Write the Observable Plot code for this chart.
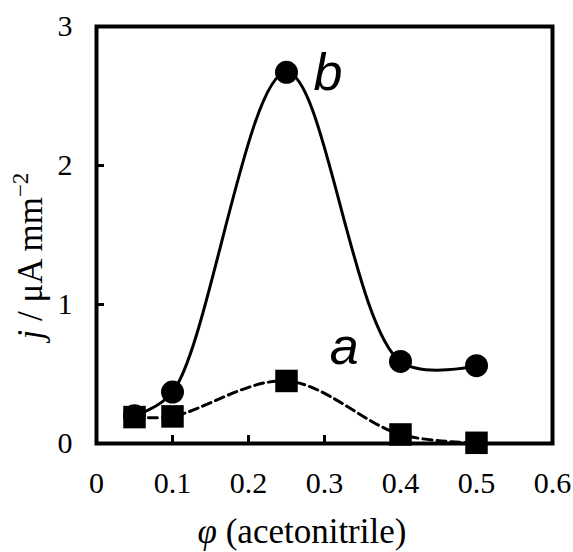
<!DOCTYPE html>
<html><head><meta charset="utf-8">
<script src="https://cdn.jsdelivr.net/npm/d3@7"></script>
<script src="https://cdn.jsdelivr.net/npm/@observablehq/plot@0.6"></script>
<style>body{margin:0;background:#fff}</style>
</head><body><div id="chart"></div>
<script>
const phi = [0.05, 0.1, 0.25, 0.4, 0.5];
const seriesA = [0.19, 0.195, 0.45, 0.065, 0.005];
const seriesB = [0.2, 0.37, 2.67, 0.59, 0.56];
const xTicks = [0, 0.1, 0.2, 0.3, 0.4, 0.5, 0.6];
const yTicks = [0, 1, 2, 3];
const labelNames = ["a", "b"];
const labelX = [0.326, 0.3046];
const labelY = [0.695, 2.66];

const dataA = phi.map((x, i) => ({x, y: seriesA[i]}));
const dataB = phi.map((x, i) => ({x, y: seriesB[i]}));
const labels = labelNames.map((name, i) => ({name, x: labelX[i], y: labelY[i]}));

const W = 573, H = 552, mL = 96, mR = 21, mT = 26, mB = 109;
const plotW = W - mL - mR, plotH = H - mT - mB, tickLen = 8;
const serif = "'Liberation Serif', 'Times New Roman', serif";

const chart = Plot.plot({
  width: W, height: H,
  marginLeft: mL, marginRight: mR, marginTop: mT, marginBottom: mB,
  style: {fontFamily: serif, fontSize: "30px", background: "#fff", color: "#000"},
  x: {domain: [0, 0.6]},
  y: {domain: [0, 3]},
  marks: [
    Plot.tickX(xTicks.slice(1, -1), {x: d => d, insetTop: plotH - tickLen, stroke: "#000", strokeWidth: 3}),
    Plot.tickY(yTicks.slice(1, -1), {y: d => d, insetRight: plotW - tickLen, stroke: "#000", strokeWidth: 3}),
    Plot.axisX(xTicks, {tickSize: 0, tickPadding: 28, fontSize: 30, label: null, tickFormat: d => String(d)}),
    Plot.axisY(yTicks, {tickSize: 0, tickPadding: 24, fontSize: 30, label: null, tickFormat: d => String(d)}),
    Plot.line(dataB, {x: "x", y: "y", curve: "catmull-rom", stroke: "#000", strokeWidth: 3}),
    Plot.line(dataA, {x: "x", y: "y", curve: "catmull-rom", stroke: "#000", strokeWidth: 3, strokeDasharray: "9,5"}),
    Plot.dot(dataB, {x: "x", y: "y", symbol: "circle", r: 11.5, fill: "#000", stroke: null}),
    Plot.dot(dataA, {x: "x", y: "y", symbol: "square", r: 12.7, fill: "#000", stroke: null}),
    Plot.frame({stroke: "#000", strokeWidth: 4}),
    Plot.text(labels, {x: "x", y: "y", text: "name", fontFamily: "'Liberation Sans', Arial, sans-serif", fontStyle: "italic", fontSize: 52, fill: "#000"})
  ]
});
document.getElementById("chart").appendChild(chart);

const svg = d3.select(chart);
// x axis title
const xt = svg.append("text")
  .attr("x", 302).attr("y", 543)
  .attr("text-anchor", "middle")
  .attr("font-family", serif).attr("font-size", 35).attr("fill", "#000");
xt.append("tspan").attr("font-style", "italic").text("φ");
xt.append("tspan").text(" (acetonitrile)");
// y axis title
const yt = svg.append("text")
  .attr("transform", "translate(42,256) rotate(-90)")
  .attr("text-anchor", "middle")
  .attr("font-family", serif).attr("font-size", 35).attr("fill", "#000");
yt.append("tspan").attr("font-style", "italic").text("j");
yt.append("tspan").text(" / μA mm");
yt.append("tspan").attr("font-size", 23).attr("dy", -14).text("−2");
</script>
</body></html>
